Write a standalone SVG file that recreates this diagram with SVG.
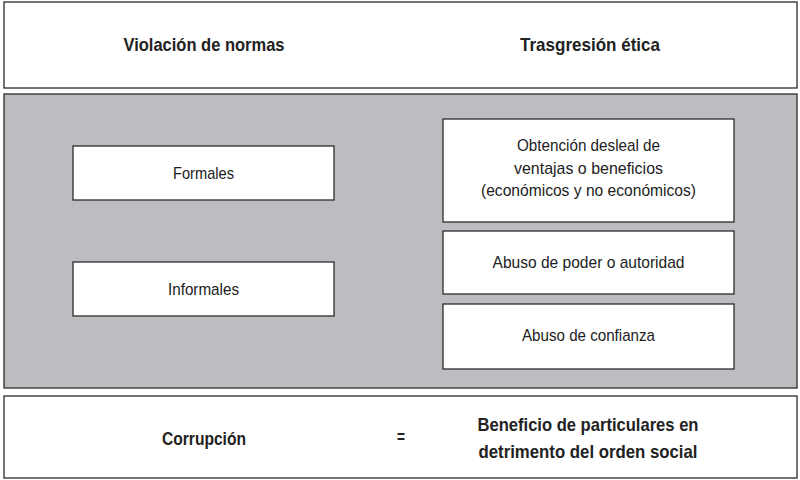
<svg xmlns="http://www.w3.org/2000/svg" width="800" height="480" viewBox="0 0 800 480">
<style>
.box{fill:#ffffff;stroke:#2b2b2b;stroke-width:1.3}
.panel{fill:#bcbdc0;stroke:#2b2b2b;stroke-width:1.3}
text{font-family:"Liberation Sans",Arial,sans-serif;fill:#222222;text-anchor:middle}
.h{font-size:18.5px;font-weight:bold}
.t{font-size:17px}
</style>
<rect width="800" height="480" fill="#ffffff"/>
<g id="header">
<rect class="box" x="4" y="2" width="793" height="86"/>
<text class="h" x="204" y="51" textLength="161" lengthAdjust="spacingAndGlyphs">Violación de normas</text>
<text class="h" x="590" y="51" textLength="140" lengthAdjust="spacingAndGlyphs">Trasgresión ética</text>
</g>
<g id="panel">
<rect class="panel" x="4" y="94" width="793" height="294"/>
</g>
<g id="formales">
<rect class="box" x="73" y="146" width="261" height="54"/>
<text class="t" x="203.5" y="179" textLength="61" lengthAdjust="spacingAndGlyphs">Formales</text>
</g>
<g id="informales">
<rect class="box" x="73" y="262" width="261" height="54"/>
<text class="t" x="203.5" y="295" textLength="71" lengthAdjust="spacingAndGlyphs">Informales</text>
</g>
<g id="obtencion">
<rect class="box" x="443" y="119" width="291" height="103"/>
<text class="t" x="588.5" y="151" textLength="143" lengthAdjust="spacingAndGlyphs">Obtención desleal de</text>
<text class="t" x="588.5" y="174" textLength="149" lengthAdjust="spacingAndGlyphs">ventajas o beneficios</text>
<text class="t" x="588.5" y="196" textLength="215" lengthAdjust="spacingAndGlyphs">(económicos y no económicos)</text>
</g>
<g id="abuso-poder">
<rect class="box" x="443" y="231" width="291" height="63"/>
<text class="t" x="588.5" y="268" textLength="192" lengthAdjust="spacingAndGlyphs">Abuso de poder o autoridad</text>
</g>
<g id="abuso-confianza">
<rect class="box" x="443" y="304" width="291" height="65"/>
<text class="t" x="588.5" y="341" textLength="133" lengthAdjust="spacingAndGlyphs">Abuso de confianza</text>
</g>
<g id="footer">
<rect class="box" x="4" y="396" width="793" height="82"/>
<text class="h" x="204" y="445" textLength="84" lengthAdjust="spacingAndGlyphs">Corrupción</text>
<text class="h" x="401" y="443" textLength="8" lengthAdjust="spacingAndGlyphs">=</text>
<text class="h" x="588" y="431" textLength="221" lengthAdjust="spacingAndGlyphs">Beneficio de particulares en</text>
<text class="h" x="588" y="458" textLength="219" lengthAdjust="spacingAndGlyphs">detrimento del orden social</text>
</g>
<g id="connectors"/>
</svg>
